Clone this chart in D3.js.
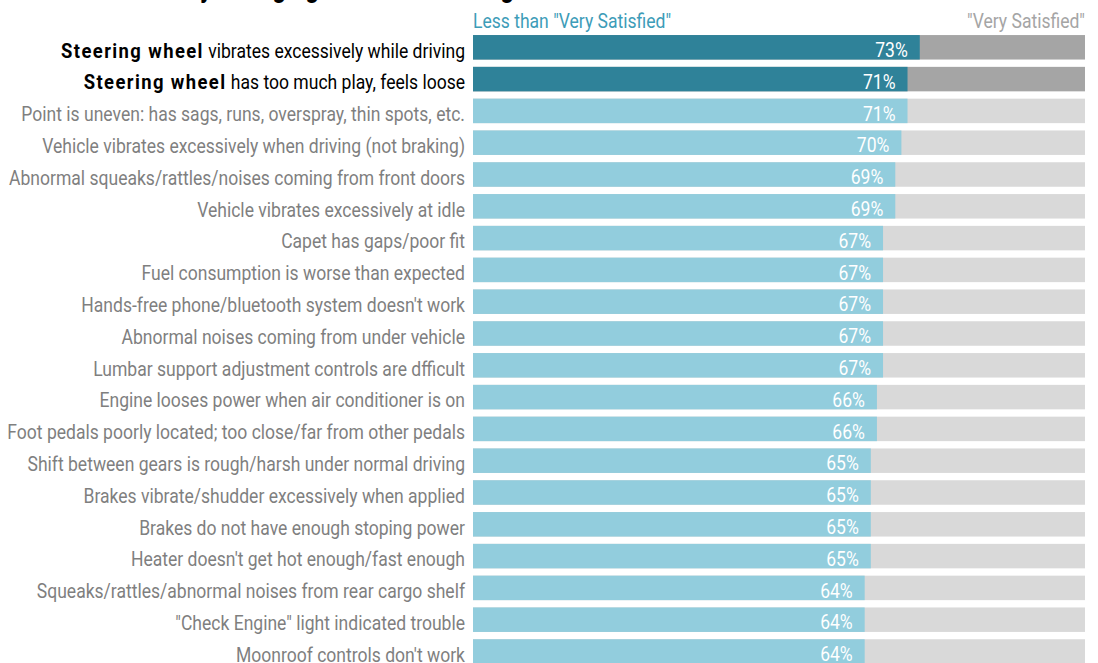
<!DOCTYPE html>
<html>
<head>
<meta charset="utf-8">
<script src="https://cdn.jsdelivr.net/npm/d3@7"></script>
<style>
  html, body { margin: 0; padding: 0; background: #ffffff; }
  svg { display: block; }
  text { font-family: Roboto, "Liberation Sans", sans-serif; }
</style>
</head>
<body>
<svg id="chart" width="1098" height="663"></svg>
<script>
// Problem items, ranked by share of owners rating less than "Very Satisfied"
const problems = [
  "Steering wheel vibrates excessively while driving",
  "Steering wheel has too much play, feels loose",
  "Point is uneven: has sags, runs, overspray, thin spots, etc.",
  "Vehicle vibrates excessively when driving (not braking)",
  "Abnormal squeaks/rattles/noises coming from front doors",
  "Vehicle vibrates excessively at idle",
  "Capet has gaps/poor fit",
  "Fuel consumption is worse than expected",
  "Hands-free phone/bluetooth system doesn't work",
  "Abnormal noises coming from under vehicle",
  "Lumbar support adjustment controls are dfficult",
  "Engine looses power when air conditioner is on",
  "Foot pedals poorly located; too close/far from other pedals",
  "Shift between gears is rough/harsh under normal driving",
  "Brakes vibrate/shudder excessively when applied",
  "Brakes do not have enough stoping power",
  "Heater doesn't get hot enough/fast enough",
  "Squeaks/rattles/abnormal noises from rear cargo shelf",
  "\"Check Engine\" light indicated trouble",
  "Moonroof controls don't work"
];
// Percent less than "Very Satisfied"
const lessThanVerySatisfied = [73, 71, 71, 70, 69, 69, 67, 67, 67, 67, 67, 66, 66, 65, 65, 65, 65, 64, 64, 64];
// Rows called out in the chart and the phrase set in bold
const highlighted = [0, 1];
const emphasisPhrase = "Steering wheel";
const legendLabels = ["Less than \"Very Satisfied\"", "\"Very Satisfied\""];
const titleText = "Issues Most Likely Changing the Overall Rating";

const rows = problems.map((p, i) => ({
  label: p,
  value: lessThanVerySatisfied[i],
  hot: highlighted.includes(i)
}));

const svg = d3.select("#chart");
const barLeft = 473, barRight = 1085;

const x = d3.scaleLinear().domain([0, 100]).range([barLeft, barRight]);
const y = d3.scaleBand()
  .domain(rows.map((d, i) => i))
  .range([31.4, 31.4 + 31.8 * 20])
  .paddingInner(0.23)
  .paddingOuter(0.115);

const colors = {
  hotLess: "#2f8299", hotVery: "#a5a5a5",
  less: "#92cddd", very: "#d9d9d9",
  label: "#7f7f7f", hotLabel: "#000000",
  legendLess: "#3d9cb8", legendVery: "#a5a5a5"
};
const fontSize = 20;

// Condensed lettering: squeeze glyphs horizontally so the long
// labels fit the gutter left of the bars.
const probe = svg.append("text").attr("font-size", fontSize).text(problems[2]);
const squeeze = 444 / probe.node().getComputedTextLength();
probe.remove();

function place(sel, px, py) {
  return sel.attr("transform", (d, i) =>
    `translate(${typeof px === "function" ? px(d, i) : px},${typeof py === "function" ? py(d, i) : py}) scale(${squeeze},1)`);
}

// Title (runs off the top edge)
place(svg.append("text"), 14, -3)
  .attr("font-size", 27).attr("font-weight", "bold")
  .attr("fill", "#000")
  .text(titleText);

// Legend labels above the bars
place(svg.append("text"), x(0), 28)
  .attr("font-size", fontSize).attr("fill", colors.legendLess)
  .text(legendLabels[0]);
place(svg.append("text"), x(100), 28)
  .attr("text-anchor", "end")
  .attr("font-size", fontSize).attr("fill", colors.legendVery)
  .text(legendLabels[1]);

const g = svg.append("g");
const row = g.selectAll("g.row").data(rows).join("g").attr("class", "row");

// "Very Satisfied" remainder: full-width background bar
row.append("rect")
  .attr("x", x(0)).attr("width", x(100) - x(0))
  .attr("y", (d, i) => y(i)).attr("height", y.bandwidth())
  .attr("fill", d => d.hot ? colors.hotVery : colors.very);

// Less than "Very Satisfied" share
row.append("rect")
  .attr("x", x(0)).attr("width", d => x(d.value) - x(0))
  .attr("y", (d, i) => y(i)).attr("height", y.bandwidth())
  .attr("fill", d => d.hot ? colors.hotLess : colors.less);

// Value labels inside the bar end
place(row.append("text"), d => x(d.value) - 12, (d, i) => y(i) + y.bandwidth() - 2.5)
  .attr("text-anchor", "end")
  .attr("font-size", fontSize)
  .attr("fill", "#ffffff")
  .text(d => d.value + "%");

// Category labels
const lbl = place(row.append("text"), x(0) - 8, (d, i) => y(i) + y.bandwidth() - 2)
  .attr("text-anchor", "end")
  .attr("font-size", fontSize)
  .attr("fill", d => d.hot ? colors.hotLabel : colors.label);

lbl.each(function(d) {
  const t = d3.select(this);
  if (d.hot && d.label.startsWith(emphasisPhrase)) {
    t.append("tspan").attr("font-weight", "bold")
      .attr("font-size", 21).attr("letter-spacing", 1.6)
      .text(emphasisPhrase);
    t.append("tspan").text(d.label.slice(emphasisPhrase.length));
  } else {
    t.text(d.label);
  }
});
</script>
</body>
</html>
